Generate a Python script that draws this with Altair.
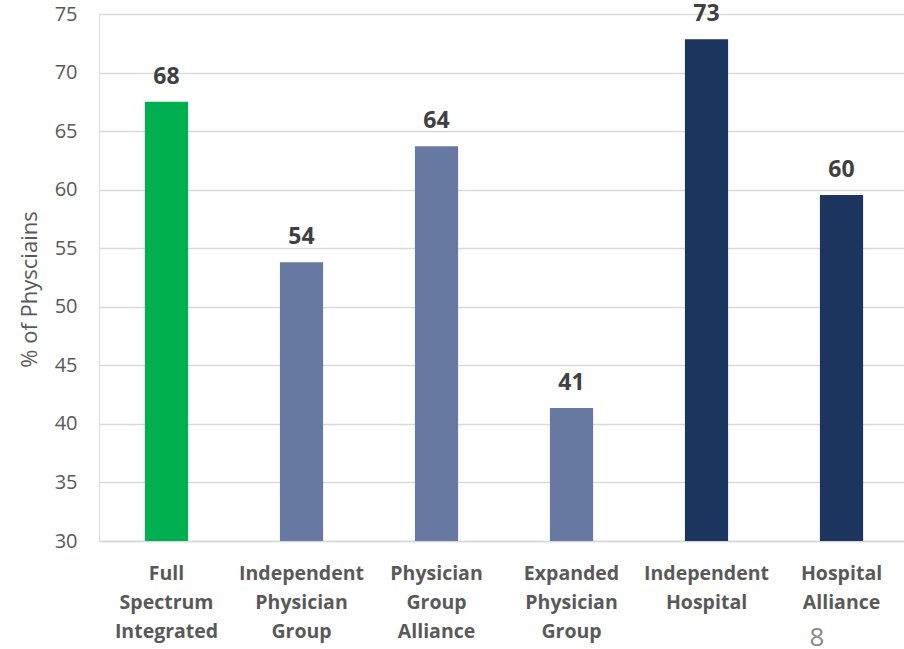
import altair as alt
import pandas as pd

categories = ["Full|Spectrum|Integrated", "Independent|Physician|Group", "Physician|Group|Alliance",
              "Expanded|Physician|Group", "Independent|Hospital", "Hospital|Alliance"]
values = [67.5, 53.8, 63.7, 41.35, 72.85, 59.55]
labels = ["68", "54", "64", "41", "73", "60"]
colors = ["#00B050", "#6779A1", "#6779A1", "#6779A1", "#1C355E", "#1C355E"]

df = pd.DataFrame({"cat": categories, "val": values, "lab": labels, "col": colors})

FONT = "Open Sans"

x = alt.X("cat:N", sort=categories, title=None,
          scale=alt.Scale(paddingInner=0.68, paddingOuter=0.3215, align=0.529),
          axis=alt.Axis(labelExpr="split(datum.label, '|')", labelAngle=0, labelFont=FONT,
                        labelFontSize=19.5, labelFontWeight="bold", labelColor="#595959",
                        labelLineHeight=29, labelPadding=32, labelBaseline="middle",
                        domain=True, domainColor="#D9D9D9", domainWidth=1.5,
                        ticks=False, grid=False))
y = alt.Y("val:Q", title="% of Physciains",
          scale=alt.Scale(domain=[30, 75], nice=False, zero=False),
          axis=alt.Axis(values=list(range(30, 80, 5)), labelFont=FONT, labelFontSize=20,
                        labelColor="#595959", labelPadding=22, domain=False, ticks=False,
                        gridColor="#D9D9D9", gridWidth=1.5, titleFont=FONT,
                        titleFontSize=22, titleFontWeight="normal", titleColor="#595959",
                        titleX=-70, titleY=275, titleAngle=-90, titleBaseline="middle",
                        titleAlign="center"))

bars = alt.Chart(df).mark_bar(clip=True).encode(x=x, y=y, color=alt.Color("col:N", scale=None))
text = alt.Chart(df).mark_text(font=FONT, fontSize=23, fontWeight="bold", color="#404040",
                               baseline="alphabetic", dy=-18).encode(
    x=alt.X("cat:N", sort=categories), y="val:Q", text="lab:N")
page = alt.Chart(pd.DataFrame({"t": ["8"]})).mark_text(
    font=FONT, fontSize=26, color="#898989", baseline="middle", align="center").encode(
    x=alt.value(718), y=alt.value(624), text="t:N")

chart = (bars + text + page).properties(
    width=805, height=527,
    autosize=alt.AutoSizeParams(type="none"),
    padding={"left": 99, "top": 14, "right": 0, "bottom": 108},
).configure_view(stroke=None).configure(background="white")

chart.save("out.html", embed_options={"renderer": "svg", "actions": False})
